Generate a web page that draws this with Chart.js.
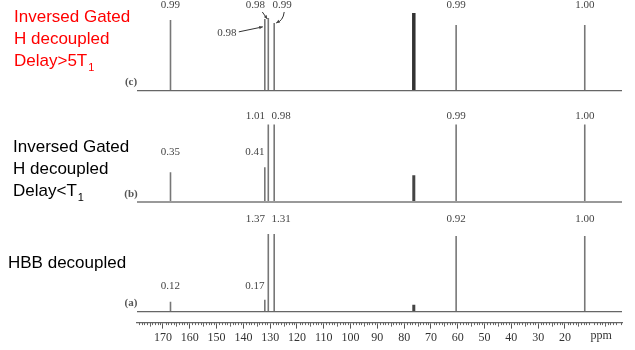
<!DOCTYPE html>
<html>
<head>
<meta charset="utf-8">
<script src="https://cdn.jsdelivr.net/npm/chart.js@4.4.1/dist/chart.umd.min.js"></script>
<style>
  body { margin: 0; background: #fff; }
  #wrap { width: 635px; height: 350px; position: relative; }
</style>
</head>
<body>
<div id="wrap"><canvas id="nmrChart"></canvas></div>
<script>
/* =========================
   DATA
========================= */
// peak positions (ppm)
const peakPpm = [167.2, 132.0, 130.7, 128.5, 60.6, 12.6];
const solventPpm = [76.4];

// peak heights (c top, b middle, a bottom)
const heightsC = [71, 72, 73, 68, 66, 66];
const heightsB = [30, 35, 78, 78, 78, 78];
const heightsA = [10, 12, 78, 78, 76, 76];
const solventC = [78];
const solventB = [27];
const solventA = [7];

// integral labels
const integralsC = ["0.99", "0.98", "0.98", "0.99", "0.99", "1.00"];
const integralsB = ["0.35", "0.41", "1.01", "0.98", "0.99", "1.00"];
const integralsA = ["0.12", "0.17", "1.37", "1.31", "0.92", "1.00"];

// axis tick labels
const tickValues = [170, 160, 150, 140, 130, 120, 110, 100, 90, 80, 70, 60, 50, 40, 30, 20];

/* =========================
   LAYOUT
========================= */
const X_MIN = -1.3, X_MAX = 179.7;
// vertical offsets of each trace (same units as heights)
const offsetC = 233, offsetB = 121, offsetA = 11;

// where each integral label sits: dx from peak (px), rise above baseline
const layoutC = [
  { dx: 0, rise: 86 }, { dx: -38, rise: 58, arrow: 'line' }, { dx: -13, rise: 86, arrow: 'short' },
  { dx: 8, rise: 86, arrow: 'curve' }, { dx: 0, rise: 86 }, { dx: 0, rise: 86 }
];
const layoutB = [
  { dx: 0, rise: 50 }, { dx: -10, rise: 50 }, { dx: -13, rise: 86 },
  { dx: 7, rise: 86 }, { dx: 0, rise: 86 }, { dx: 0, rise: 86 }
];
const layoutA = [
  { dx: 0, rise: 26 }, { dx: -10, rise: 26 }, { dx: -13, rise: 93 },
  { dx: 7, rise: 93 }, { dx: 0, rise: 93 }, { dx: 0, rise: 93 }
];

function sticks(ppms, heights, base) {
  const pts = [];
  ppms.forEach((p, i) => {
    pts.push({ x: p, y: base }, { x: p, y: base + heights[i] }, { x: p, y: null });
  });
  return pts;
}

function baseline(base) {
  return [{ x: X_MAX, y: base }, { x: X_MIN, y: base }];
}

function lineSet(data, color, width) {
  return {
    data: data,
    showLine: true,
    borderColor: color,
    borderWidth: width,
    pointRadius: 0,
    spanGaps: false
  };
}

/* =========================
   TEXT + ARROWS PLUGIN
========================= */
function arrowHead(ctx, x1, y1, x2, y2) {
  const a = Math.atan2(y2 - y1, x2 - x1);
  const s = 4;
  ctx.beginPath();
  ctx.moveTo(x2, y2);
  ctx.lineTo(x2 - s * Math.cos(a - 0.45), y2 - s * Math.sin(a - 0.45));
  ctx.lineTo(x2 - s * Math.cos(a + 0.45), y2 - s * Math.sin(a + 0.45));
  ctx.closePath();
  ctx.fill();
}

const decorPlugin = {
  id: 'decor',
  afterDraw(chart) {
    const ctx = chart.ctx;
    const xs = chart.scales.x;
    const ys = chart.scales.y;
    const axisY = chart.chartArea.bottom;

    ctx.save();

    // minor ticks
    ctx.strokeStyle = '#666';
    ctx.lineWidth = 1;
    for (let v = Math.ceil(X_MIN); v <= Math.floor(X_MAX); v++) {
      if (v % 10 === 0) continue;
      const x = Math.round(xs.getPixelForValue(v)) + 0.5;
      const len = v % 5 === 0 ? 4 : 2.5;
      ctx.beginPath();
      ctx.moveTo(x, axisY);
      ctx.lineTo(x, axisY + len);
      ctx.stroke();
    }

    // ppm
    ctx.fillStyle = '#333';
    ctx.font = '12px "Liberation Serif"';
    ctx.textAlign = 'center';
    ctx.textBaseline = 'middle';
    ctx.fillText('ppm', xs.getPixelForValue(6.5), axisY + 13);

    // integral labels
    ctx.font = '11px "Liberation Serif"';
    ctx.fillStyle = '#444';
    ctx.strokeStyle = '#333';
    const traces = [
      [integralsC, layoutC, offsetC],
      [integralsB, layoutB, offsetB],
      [integralsA, layoutA, offsetA]
    ];
    traces.forEach(([labels, layout, base]) => {
      labels.forEach((txt, i) => {
        const px = xs.getPixelForValue(peakPpm[i]);
        const lx = px + layout[i].dx;
        const ly = ys.getPixelForValue(base + layout[i].rise);
        ctx.fillText(txt, lx, ly);

        const kind = layout[i].arrow;
        if (!kind) return;
        ctx.lineWidth = 1;
        ctx.beginPath();
        if (kind === 'line') {
          ctx.moveTo(lx + 12, ly - 1);
          ctx.lineTo(px - 2, ly - 6);
          ctx.stroke();
          arrowHead(ctx, lx + 12, ly - 1, px - 2, ly - 6);
        } else if (kind === 'short') {
          ctx.moveTo(lx + 7, ly + 7);
          ctx.lineTo(px - 1, ly + 14);
          ctx.stroke();
          arrowHead(ctx, lx + 7, ly + 7, px - 1, ly + 14);
        } else {
          ctx.moveTo(lx + 2, ly + 7);
          ctx.quadraticCurveTo(lx + 1, ly + 16, px + 2, ly + 18);
          ctx.stroke();
          arrowHead(ctx, lx - 1, ly + 15, px + 2, ly + 18);
        }
      });
    });

    // trace letters
    ctx.font = 'bold 11px "Liberation Serif"';
    ctx.fillStyle = '#555';
    ctx.textAlign = 'center';
    ctx.fillText('(c)', 131, ys.getPixelForValue(offsetC) - 8);
    ctx.fillText('(b)', 131, ys.getPixelForValue(offsetB) - 8);
    ctx.fillText('(a)', 131, ys.getPixelForValue(offsetA) - 8);

    // left captions
    ctx.textAlign = 'left';
    ctx.textBaseline = 'alphabetic';
    function caption(lines, x, y0, color) {
      ctx.fillStyle = color;
      lines.forEach((ln, k) => {
        const y = y0 + k * 22;
        ctx.font = '17px "Liberation Sans"';
        ctx.fillText(ln[0], x, y);
        if (ln[1]) {
          const w = ctx.measureText(ln[0]).width;
          ctx.font = '11px "Liberation Sans"';
          ctx.fillText(ln[1], x + w + 1, y + 5);
        }
      });
    }
    caption([['Inversed Gated'], ['H decoupled'], ['Delay>5T', '1']], 14, 22, '#ff0000');
    caption([['Inversed Gated'], ['H decoupled'], ['Delay<T', '1']], 13, 152, '#000');
    caption([['HBB decoupled']], 8, 268, '#000');

    ctx.restore();
  }
};

/* =========================
   CHART
========================= */
const ctx = document.getElementById('nmrChart').getContext('2d');

new Chart(ctx, {
  type: 'scatter',
  data: {
    datasets: [
      lineSet(baseline(offsetC), '#666', 1.3),
      lineSet(baseline(offsetB), '#999', 2),
      lineSet(baseline(offsetA), '#666', 1.3),
      lineSet(sticks(peakPpm, heightsC, offsetC), '#777', 1.6),
      lineSet(sticks(peakPpm, heightsB, offsetB), '#777', 1.6),
      lineSet(sticks(peakPpm, heightsA, offsetA), '#777', 1.6),
      lineSet(sticks(solventPpm, solventC, offsetC), '#333', 3.5),
      lineSet(sticks(solventPpm, solventB, offsetB), '#444', 3),
      lineSet(sticks(solventPpm, solventA, offsetA), '#444', 3)
    ]
  },
  options: {
    responsive: true,
    maintainAspectRatio: false,
    animation: false,
    layout: { padding: { left: 137, right: 13, top: 0, bottom: 3 } },
    plugins: {
      legend: { display: false },
      tooltip: { enabled: false }
    },
    scales: {
      x: {
        type: 'linear',
        reverse: true,
        min: X_MIN,
        max: X_MAX,
        afterBuildTicks: (axis) => {
          axis.ticks = tickValues.map(v => ({ value: v }));
        },
        grid: {
          drawOnChartArea: false,
          drawTicks: true,
          tickLength: 6,
          color: '#555'
        },
        border: { display: true, color: '#666', width: 1.3 },
        ticks: {
          color: '#333',
          padding: 2,
          maxRotation: 0,
          autoSkip: false,
          font: { family: 'Liberation Serif', size: 12 }
        }
      },
      y: {
        display: false,
        min: 0,
        max: 324
      }
    }
  },
  plugins: [decorPlugin]
});
</script>
</body>
</html>
